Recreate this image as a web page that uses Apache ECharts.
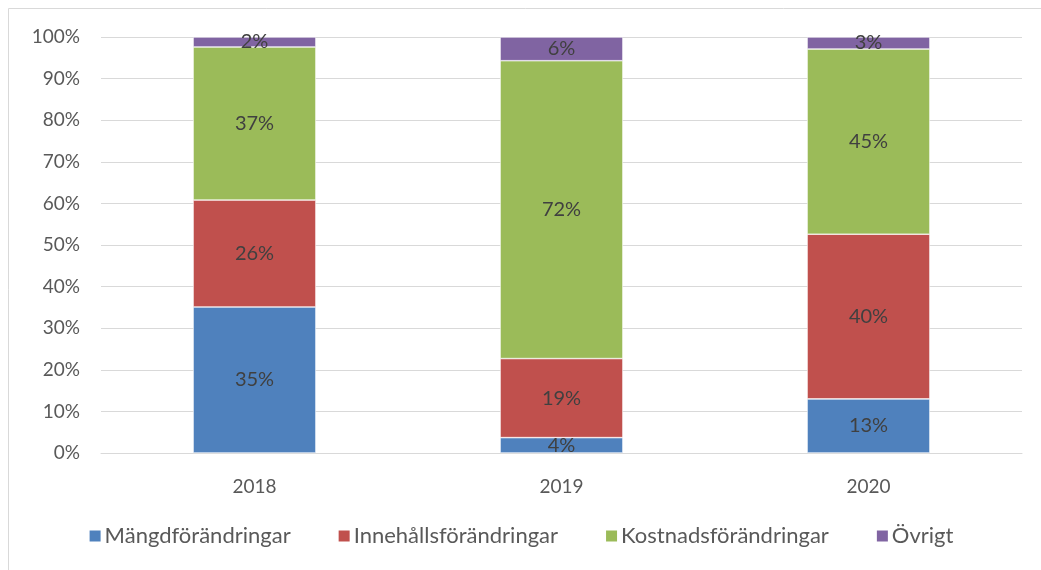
<!DOCTYPE html>
<html>
<head>
    <meta charset="UTF-8">
    <title>Förändringar per år</title>
    <script src="https://cdn.jsdelivr.net/npm/echarts@6/dist/echarts.min.js"></script>
    <style>
        body { margin: 0; padding: 0; background: #fff; }
        #chart { width: 1041px; height: 570px; }
    </style>
</head>
<body>
<div id="chart"></div>
<script>
    // värden (procent av total)
    var years = ['2018', '2019', '2020'];
    var mangd = [35.1, 3.7, 13.0];
    var innehall = [25.7, 19.0, 39.6];
    var kostnad = [36.8, 71.6, 44.5];
    var ovrigt = [2.4, 5.7, 2.9];

    var names = ['Mängdförändringar', 'Innehållsförändringar', 'Kostnadsförändringar', 'Övrigt'];
    var colors = ['#4F81BD', '#C0504D', '#9BBB59', '#8064A2'];
    var font = 'Lato, "Open Sans", sans-serif';

    function makeSeries(name, data, color) {
        return {
            name: name,
            type: 'bar',
            stack: 'total',
            barWidth: '40%',
            data: data,
            itemStyle: { color: color, borderColor: '#ffffff', borderWidth: 0.6 },
            label: {
                show: true,
                position: 'inside',
                color: '#404040',
                fontFamily: font,
                fontSize: 20,
                formatter: function (p) { return Math.round(p.value) + '%'; }
            }
        };
    }

    var chart = echarts.init(document.getElementById('chart'), null, {renderer: 'canvas'});
    chart.setOption({
        animation: false,
        color: colors,
        graphic: [{
            type: 'rect',
            shape: { x: 8.5, y: 8.5, width: 1100, height: 700 },
            style: { fill: 'none', stroke: '#d9d9d9', lineWidth: 1 },
            silent: true
        }],
        grid: { left: 101, right: 19, top: 37, bottom: 117 },
        legend: {
            bottom: 18,
            left: 'center',
            itemWidth: 13,
            itemHeight: 13,
            itemGap: 46,
            icon: 'rect',
            textStyle: { color: '#595959', fontFamily: font, fontSize: 22, padding: [0, 0, 0, -2] },
            data: names
        },
        xAxis: {
            type: 'category',
            data: years,
            axisLine: { lineStyle: { color: '#d9d9d9' } },
            axisTick: { show: false },
            axisLabel: { color: '#595959', fontFamily: font, fontSize: 19, margin: 24 }
        },
        yAxis: {
            type: 'value',
            min: 0,
            max: 100,
            interval: 10,
            axisLine: { show: false },
            axisTick: { show: false },
            splitLine: { lineStyle: { color: '#d9d9d9' } },
            axisLabel: { color: '#595959', fontFamily: font, fontSize: 19, margin: 21, formatter: '{value}%' }
        },
        series: [
            makeSeries(names[0], mangd, colors[0]),
            makeSeries(names[1], innehall, colors[1]),
            makeSeries(names[2], kostnad, colors[2]),
            makeSeries(names[3], ovrigt, colors[3])
        ]
    });
</script>
</body>
</html>
